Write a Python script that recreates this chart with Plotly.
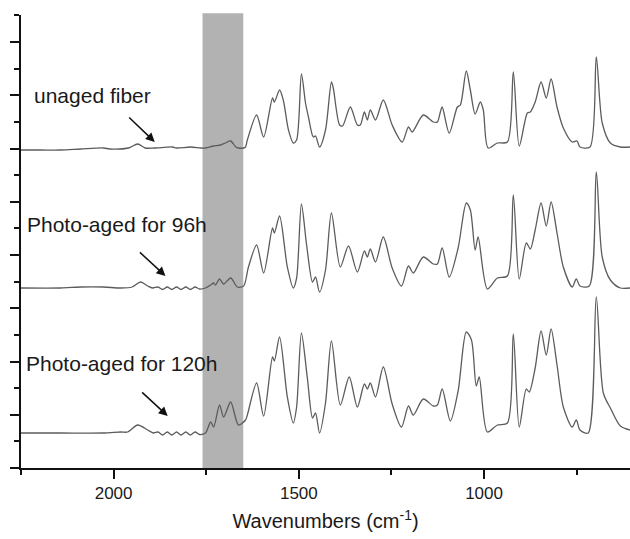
import plotly.graph_objects as go

# ---- data (wavenumber in cm-1, absorbance in arbitrary units relative to each trace's baseline) ----
wn_unaged = [2250, 2197, 2143, 2089, 2027, 2010, 1960, 1935, 1915, 1890, 1841, 1830, 1792, 1765, 1752, 1730,
             1711, 1698, 1684, 1670, 1663, 1649, 1644, 1639, 1614, 1595, 1571, 1566, 1552, 1542, 1528, 1515,
             1506, 1493, 1482, 1474, 1461, 1455, 1444, 1428, 1412, 1407, 1390, 1382, 1361, 1342, 1334, 1323,
             1315, 1307, 1293, 1272, 1248, 1221, 1204, 1194, 1164, 1137, 1126, 1118, 1113, 1094, 1072, 1064,
             1048, 1037, 1024, 1010, 1002, 989, 964, 937, 921, 905, 883, 875, 862, 846, 832, 819, 803, 786,
             762, 749, 741, 714, 697, 681, 659, 632, 606]
ab_unaged = [-1, -1, -1, 0, 1, 0, 1, 5, 1, 1, 2, 1, 2, 1, 1, 3,
             4, 6, 8, 2, 1, 1, 2, 9, 34, 12, 51, 47, 59, 49, 19, 6,
             9, 75, 46, 32, 12, 13, 2, 19, 67, 61, 24, 23, 42, 24, 24, 37,
             29, 39, 29, 49, 24, 7, 22, 17, 34, 27, 27, 37, 42, 16, 42, 44,
             78, 59, 35, 47, 39, 1, 6, 7, 77, 3, 36, 37, 47, 67, 51, 70, 42, 21,
             7, 8, 2, 2, 92, 26, 6, 2, 2]

wn_96h = [2250, 2143, 2089, 2027, 1981, 1950, 1927, 1908, 1895, 1880, 1868, 1855, 1843, 1830, 1818, 1805,
          1793, 1780, 1768, 1752, 1738, 1730, 1725, 1714, 1703, 1684,
          1666, 1649, 1636, 1614, 1595, 1571, 1566, 1552, 1531, 1515, 1506, 1493, 1479, 1463, 1455, 1444,
          1428, 1412, 1388, 1366, 1342, 1323, 1315, 1307, 1293, 1272, 1248, 1223, 1204, 1191, 1164, 1137,
          1126, 1113, 1094, 1070, 1048, 1037, 1024, 1016, 991, 964, 937, 921, 905, 886, 875, 862, 846, 832,
          819, 803, 786, 762, 751, 741, 716, 697, 681, 659, 632, 606]
ab_96h = [0, 0, 1, 1, 0, 1, 6, 2, 0, 1, -1.5, 1, -1.5, 1, -1.5, 1,
          -1.5, 1, -1, 0, 3, 5, 3, 9, 4, 10,
          1, 2, 21, 43, 15, 60, 55, 72, 21, 0, 10, 84, 43, 6, 11, -4,
          18, 75, 21, 42, 16, 37, 31, 39, 26, 51, 20, 2, 22, 15, 31, 24,
          24, 40, 11, 40, 85, 78, 38, 51, -1, 10, 12, 93, 9, 45, 39, 58, 85, 62,
          86, 55, 21, 1, 9, 2, 2, 116, 31, 8, 0, 0]

wn_120h = [2250, 2143, 2027, 1981, 1962, 1935, 1908, 1893, 1880, 1868, 1855, 1843, 1830, 1818, 1805,
           1793, 1780, 1768, 1752, 1738, 1730, 1714, 1703, 1684, 1663, 1644, 1639, 1614,
           1595, 1571, 1566, 1552, 1531, 1515, 1506, 1493, 1477, 1463, 1455, 1444, 1428, 1412, 1388, 1364,
           1342, 1323, 1315, 1307, 1293, 1272, 1248, 1223, 1204, 1191, 1164, 1137, 1126, 1113, 1091, 1070,
           1048, 1034, 1021, 1013, 991, 964, 937, 921, 905, 886, 878, 862, 846, 832, 819, 803, 786, 762,
           751, 741, 719, 697, 678, 659, 632, 606]
ab_120h = [0, 0, 0, 1, 1, 8, 3, 0, 1, -2, 1, -2, 1, -2, 1,
           -2, 1, -1.5, 0, 11, 6, 28, 16, 31, 8, 13, 18, 50,
           17, 76, 72, 96, 36, 10, 26, 100, 55, 15, 20, 0, 30, 92, 28, 56,
           26, 49, 44, 50, 36, 66, 29, 6, 27, 18, 34, 27, 28, 44, 12, 42,
           101, 93, 47, 56, 1, 8, 10, 99, 6, 44, 41, 65, 102, 78, 104, 68, 26, 6,
           13, 3, 0, 136, 40, 25, 7, 3]

series_names = ["unaged fiber", "Photo-aged for 96h", "Photo-aged for 120h"]
offsets = [319, 180, 35]          # vertical stacking offsets of the spectra
band = [1760, 1650]               # shaded carbonyl region (cm-1)
x_tickvals = [2000, 1500, 1000]
x_ticktext = ["2000", "1500", "1000"]

fig = go.Figure()
for wn, ab, off, name in zip([wn_unaged, wn_96h, wn_120h], [ab_unaged, ab_96h, ab_120h], offsets, series_names):
    fig.add_trace(go.Scatter(
        x=wn, y=[a + off for a in ab], mode="lines", name=name,
        line=dict(color="#5c5c5c", width=1.3, shape="spline", smoothing=0.8),
        showlegend=False, hoverinfo="skip"))

fig.add_shape(type="rect", xref="x", yref="paper", x0=band[0], x1=band[1], y0=0, y1=1.004,
              fillcolor="#b2b2b2", line=dict(width=0), layer="below")

txt_font = dict(family="Liberation Sans, Arial, sans-serif", size=21, color="#1a1a1a")
labels = [(2220, 373), (2238, 244), (2241, 105)]
for (lx, ly), name in zip(labels, series_names):
    fig.add_annotation(x=lx, y=ly, xref="x", yref="y", text=name, showarrow=False,
                       xanchor="left", yanchor="middle", font=txt_font)

arrows = [((1962, 352), (1889, 326)), ((1933, 217), (1860, 192)), ((1927, 77), (1854, 52))]
for (tx, ty), (hx, hy) in arrows:
    fig.add_annotation(x=hx, y=hy, ax=tx, ay=ty, xref="x", yref="y", axref="x", ayref="y",
                       text="", showarrow=True, arrowhead=2, arrowsize=1.2, arrowwidth=1.5,
                       arrowcolor="#111111")

fig.update_layout(
    width=630, height=539,
    margin=dict(l=21, r=0, t=15, b=71),
    paper_bgcolor="white", plot_bgcolor="white",
    font=dict(family="Liberation Sans, Arial, sans-serif", color="#1a1a1a"),
)
fig.update_xaxes(
    range=[2250, 606], showgrid=False, zeroline=False,
    showline=True, linecolor="#111111", linewidth=1.6,
    ticks="outside", ticklen=9, tickwidth=1.6, tickcolor="#111111",
    tickvals=x_tickvals, ticktext=x_ticktext,
    tickfont=dict(size=17, color="#1a1a1a"),
    minor=dict(ticks="outside", ticklen=5, tickwidth=1.6, tickcolor="#111111", dtick=250, tick0=0),
    title=dict(text="Wavenumbers (cm<sup>-1</sup>)", font=dict(size=20, color="#1a1a1a"), standoff=12),
)
fig.update_yaxes(
    range=[0, 453], showgrid=False, zeroline=False,
    showline=True, linecolor="#111111", linewidth=1.6,
    ticks="outside", ticklen=9, tickwidth=1.6, tickcolor="#111111",
    dtick=53.25, tick0=0, showticklabels=False,
    minor=dict(ticks="outside", ticklen=5, tickwidth=1.6, tickcolor="#111111", dtick=26.625, tick0=0),
)

fig.write_html("out.html")
